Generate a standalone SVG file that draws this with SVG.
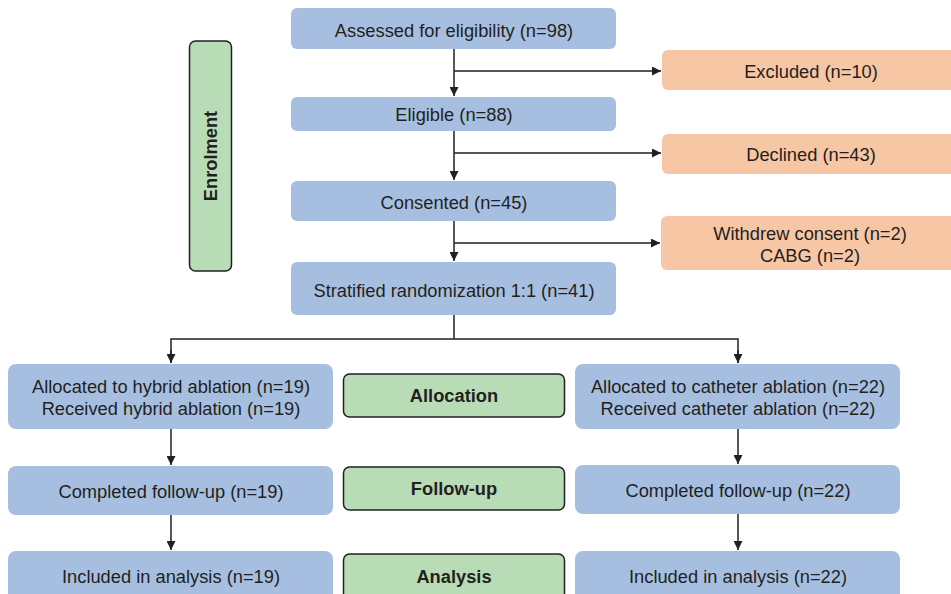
<svg xmlns="http://www.w3.org/2000/svg" width="951" height="594" viewBox="0 0 951 594">
  <style>
    .blue { fill: #a6bfe0; }
    .orange { fill: #f7c6a5; }
    .phase { fill: #b8dcb5; stroke: #231f20; stroke-width: 1.5; }
    text { font-family: "Liberation Sans", Arial, sans-serif; font-size: 18.3px; fill: #231f20; text-anchor: middle; }
    .bold { font-weight: bold; }
    .link { fill: none; stroke: #231f20; stroke-width: 1.5; }
  </style>
  <defs>
    <marker id="arrow" viewBox="0 0 10 10" refX="10" refY="5" markerWidth="10" markerHeight="9" markerUnits="userSpaceOnUse" orient="auto">
      <path d="M0,0 L10,5 L0,10 Z" fill="#231f20"/>
    </marker>
  </defs>

  <rect width="951" height="594" fill="#ffffff"/>

  <!-- phase labels -->
  <g id="enrolment">
    <rect class="phase" x="189.5" y="41" width="42" height="230" rx="6"/>
    <text class="bold" transform="translate(217,156) rotate(-90)">Enrolment</text>
  </g>
  <g id="allocation">
    <rect class="phase" x="343.5" y="374" width="221" height="43" rx="6"/>
    <text class="bold" x="454" y="402">Allocation</text>
  </g>
  <g id="followup">
    <rect class="phase" x="343.5" y="467" width="221" height="43" rx="6"/>
    <text class="bold" x="454" y="495">Follow-up</text>
  </g>
  <g id="analysis">
    <rect class="phase" x="343.5" y="554" width="221" height="50" rx="6"/>
    <text class="bold" x="454" y="583">Analysis</text>
  </g>

  <!-- enrolment flow -->
  <g id="assessed">
    <rect class="blue" x="291" y="8" width="325" height="41" rx="6"/>
    <text x="454" y="37">Assessed for eligibility (n=98)</text>
  </g>
  <g id="eligible">
    <rect class="blue" x="291" y="97" width="325" height="34" rx="6"/>
    <text x="454" y="121">Eligible (n=88)</text>
  </g>
  <g id="consented">
    <rect class="blue" x="291" y="181" width="325" height="40" rx="6"/>
    <text x="454" y="209">Consented (n=45)</text>
  </g>
  <g id="randomized">
    <rect class="blue" x="291" y="262" width="325" height="53" rx="6"/>
    <text x="454" y="297">Stratified randomization 1:1 (n=41)</text>
  </g>

  <g id="excluded">
    <rect class="orange" x="662" y="50" width="300" height="40" rx="6"/>
    <text x="811" y="78">Excluded (n=10)</text>
  </g>
  <g id="declined">
    <rect class="orange" x="662" y="134" width="300" height="40" rx="6"/>
    <text x="811" y="161">Declined (n=43)</text>
  </g>
  <g id="withdrew">
    <rect class="orange" x="661" y="216" width="300" height="54" rx="6"/>
    <text x="810" y="240">Withdrew consent (n=2)</text>
    <text x="810" y="262">CABG (n=2)</text>
  </g>

  <!-- study arms -->
  <g id="hybrid-allocated">
    <rect class="blue" x="8" y="364" width="325" height="65" rx="8"/>
    <text x="171" y="393">Allocated to hybrid ablation (n=19)</text>
    <text x="171" y="415">Received hybrid ablation (n=19)</text>
  </g>
  <g id="hybrid-followup">
    <rect class="blue" x="8" y="466" width="325" height="49" rx="8"/>
    <text x="171" y="498">Completed follow-up (n=19)</text>
  </g>
  <g id="hybrid-analysis">
    <rect class="blue" x="8" y="551" width="325" height="60" rx="8"/>
    <text x="171" y="583">Included in analysis (n=19)</text>
  </g>

  <g id="catheter-allocated">
    <rect class="blue" x="575" y="364" width="325" height="65" rx="8"/>
    <text x="738" y="393">Allocated to catheter ablation (n=22)</text>
    <text x="738" y="415">Received catheter ablation (n=22)</text>
  </g>
  <g id="catheter-followup">
    <rect class="blue" x="575" y="465" width="325" height="49" rx="8"/>
    <text x="738" y="497">Completed follow-up (n=22)</text>
  </g>
  <g id="catheter-analysis">
    <rect class="blue" x="575" y="551" width="325" height="60" rx="8"/>
    <text x="738" y="583">Included in analysis (n=22)</text>
  </g>

  <!-- connectors -->
  <g id="connectors">
    <path class="link" d="M454,49 V96" marker-end="url(#arrow)"/>
    <path class="link" d="M454,71 H661" marker-end="url(#arrow)"/>
    <path class="link" d="M454,131 V180" marker-end="url(#arrow)"/>
    <path class="link" d="M454,153 H661" marker-end="url(#arrow)"/>
    <path class="link" d="M454,221 V261" marker-end="url(#arrow)"/>
    <path class="link" d="M454,243 H660" marker-end="url(#arrow)"/>
    <path class="link" d="M454,315 V339"/>
    <path class="link" d="M171,363 V339 H738 V363" />
    <path class="link" d="M171,350 V363" marker-end="url(#arrow)"/>
    <path class="link" d="M738,350 V363" marker-end="url(#arrow)"/>
    <path class="link" d="M171,429 V465" marker-end="url(#arrow)"/>
    <path class="link" d="M171,515 V550" marker-end="url(#arrow)"/>
    <path class="link" d="M738,429 V464" marker-end="url(#arrow)"/>
    <path class="link" d="M738,514 V550" marker-end="url(#arrow)"/>
  </g>
</svg>
